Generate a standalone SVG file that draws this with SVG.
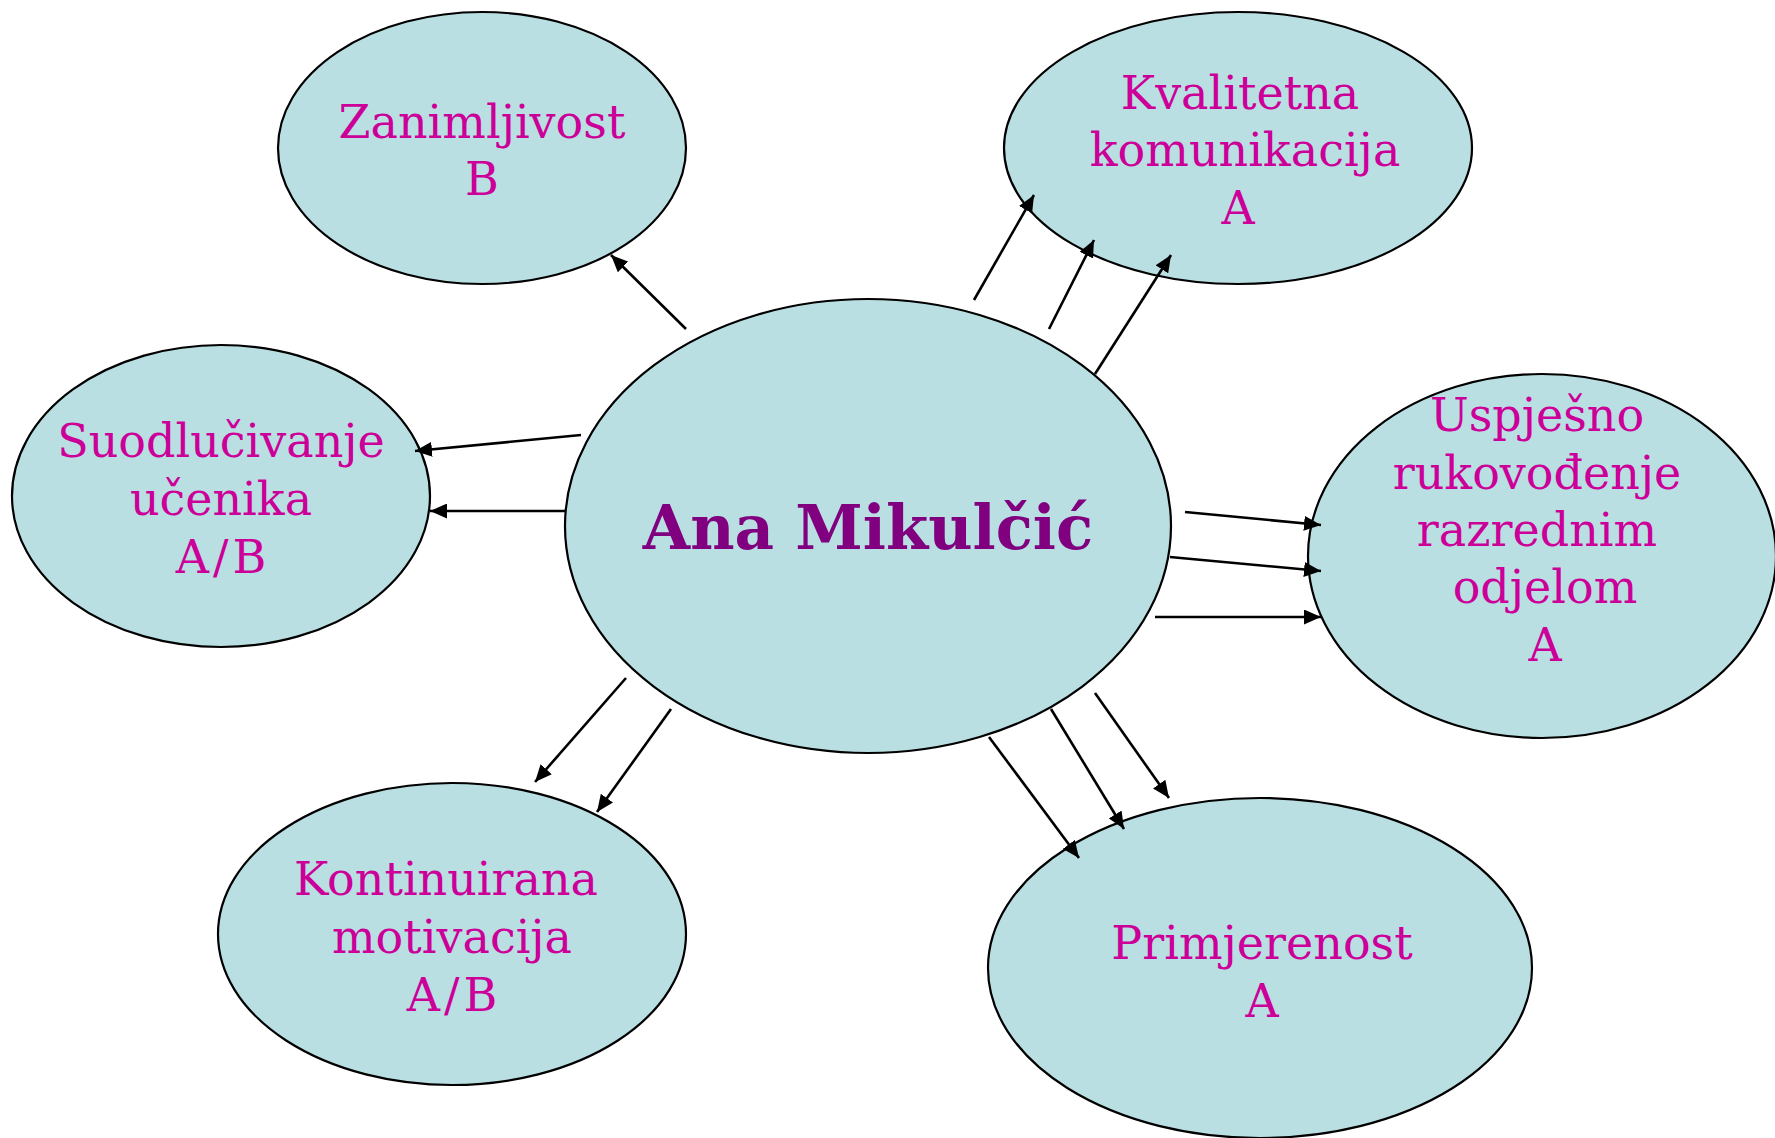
<svg xmlns="http://www.w3.org/2000/svg" width="1775" height="1138" viewBox="0 0 1775 1138">
<style>
.node ellipse{fill:#b9dfe2;stroke:#000;stroke-width:2.2}
.lbl{font-family:"DejaVu Serif",serif;font-size:46px;fill:#cc0099;text-anchor:middle}
.ab{letter-spacing:4px}
.main{font-family:"DejaVu Serif",serif;font-size:61px;font-weight:bold;fill:#800080;text-anchor:middle}
#connectors line{stroke:#000;stroke-width:2.6;marker-end:url(#arr)}
</style>
<defs>
<marker id="arr" markerUnits="userSpaceOnUse" markerWidth="19" markerHeight="15" refX="17" refY="7.5" orient="auto">
<path d="M0,0 L17,7.5 L0,15 Z" fill="#000"/>
</marker>
</defs>
<rect width="1775" height="1138" fill="#fff"/>
<g id="n-zanimljivost" class="node">
<ellipse cx="482" cy="148" rx="204" ry="136"/>
<text class="lbl" x="482" y="138">Zanimljivost</text>
<text class="lbl" x="482" y="195">B</text>
</g>
<g id="n-kvalitetna" class="node">
<ellipse cx="1238" cy="148" rx="234" ry="136"/>
<text class="lbl" x="1240" y="109">Kvalitetna</text>
<text class="lbl" x="1245" y="166">komunikacija</text>
<text class="lbl" x="1238" y="224">A</text>
</g>
<g id="n-suodlucivanje" class="node">
<ellipse cx="221" cy="496" rx="209" ry="151"/>
<text class="lbl" x="221" y="457">Suodlučivanje</text>
<text class="lbl" x="221" y="515">učenika</text>
<text class="lbl ab" x="223" y="573">A/B</text>
</g>
<g id="n-uspjesno" class="node">
<ellipse cx="1542" cy="556" rx="234" ry="182"/>
<text class="lbl" x="1537" y="431">Uspješno</text>
<text class="lbl" x="1537" y="489">rukovođenje</text>
<text class="lbl" x="1537" y="546">razrednim</text>
<text class="lbl" x="1545" y="603">odjelom</text>
<text class="lbl" x="1545" y="661">A</text>
</g>
<g id="n-kontinuirana" class="node">
<ellipse cx="452" cy="934" rx="234" ry="151"/>
<text class="lbl" x="446" y="895">Kontinuirana</text>
<text class="lbl" x="452" y="953">motivacija</text>
<text class="lbl ab" x="454" y="1011">A/B</text>
</g>
<g id="n-primjerenost" class="node">
<ellipse cx="1260" cy="968" rx="272" ry="170"/>
<text class="lbl" x="1262" y="959">Primjerenost</text>
<text class="lbl" x="1262" y="1017">A</text>
</g>
<g id="connectors">
<line x1="686" y1="329" x2="611" y2="255"/>
<line x1="974" y1="300" x2="1034" y2="195"/>
<line x1="1049" y1="329" x2="1094" y2="240"/>
<line x1="1095" y1="374" x2="1171" y2="255"/>
<line x1="581" y1="435" x2="415" y2="451"/>
<line x1="565" y1="511" x2="430" y2="511"/>
<line x1="1185" y1="512" x2="1321" y2="525"/>
<line x1="1170" y1="557" x2="1321" y2="571"/>
<line x1="1155" y1="617" x2="1321" y2="617"/>
<line x1="626" y1="678" x2="535" y2="782"/>
<line x1="671" y1="709" x2="597" y2="812"/>
<line x1="989" y1="737" x2="1079" y2="858"/>
<line x1="1051" y1="709" x2="1124" y2="829"/>
<line x1="1095" y1="693" x2="1169" y2="798"/>
</g>
<g id="n-center" class="node">
<ellipse cx="868" cy="526" rx="303" ry="227"/>
<text class="main" x="868" y="549">Ana Mikulčić</text>
</g>
</svg>
